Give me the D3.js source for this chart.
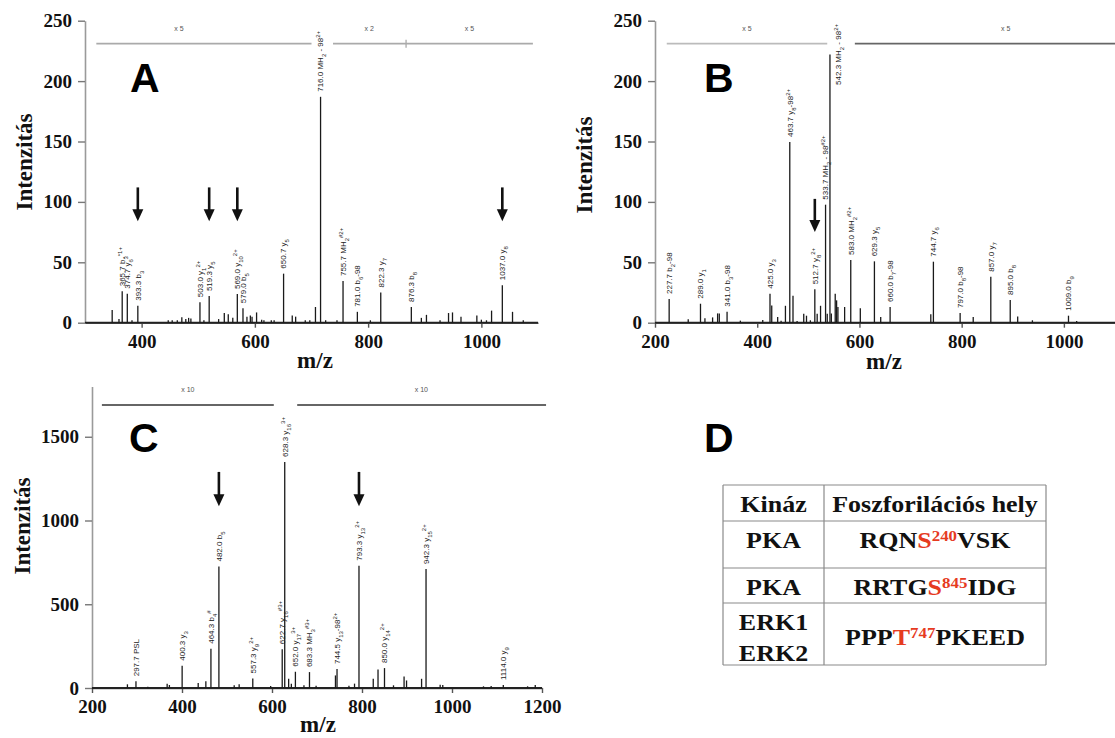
<!DOCTYPE html>
<html><head><meta charset="utf-8">
<script src="https://cdn.jsdelivr.net/npm/d3@7"></script>
<style>body{margin:0;background:#fff} svg{display:block}</style>
</head><body>
<svg id="chart" width="1115" height="738"></svg>
<script>
// ---------------- DATA ----------------
// Panel A spectrum (m/z, intensity)
const aPeakMz  = [348,360,365.7,374.7,383,393.3,447,454,463,471,478,483,487,503.0,510,519.3,536,546,553,561,569.0,579.0,586,592,595,603,612,616,629,634,650.7,666,672,689,697,707,716.0,725,745,755.7,781.0,804,822.3,876.3,894,903,927,942,949,964,992,1000,1009,1018,1037.0,1055,1074];
const aPeakInt = [10.5,3,26,24,2,14,2,2,2,4.5,3,4,3.5,17,2,22,3,8,7,4,23.7,12,5,6,5,8.5,2.5,2,2,2,40.6,6,5,2,2,13,187,2,2,34.5,9,2,25,13,4,6.5,2,8,8.5,5,6,2.5,2,10,31,9,2];
const aLabelMz   = [365.7,374.7,393.3,503.0,519.3,569.0,579.0,650.7,716.0,755.7,781.0,822.3,876.3,1037.0];
const aLabelText = ["365.7 b_3^*1+","374.7 y_6^*","393.3 b_3","503.0 y_1^2+","519.3 y_5","569.0 y_10^2+","579.0 b_5","650.7 y_5","716.0 MH_2 - 98^2+","755.7 MH_2^#2+","781.0 b_6-98","822.3 y_7","876.3 b_8","1037.0 y_8"];
const aArrowMz = [393.3,519.3,569.0,1037.0];
const aMagStart = [320,738,867], aMagEnd = [700,867,1091], aMagText = ["x 5","x 2","x 5"], aMagTextMz = [466,802,979];

// Panel B spectrum
const bPeakMz  = [227.7,265,289.0,297.7,312.7,322.5,325.8,341.0,367,410.8,425.0,428.4,440,446.7,455.2,463.7,470,478,491,496.4,504,512.7,517.3,523.9,533.7,537,542.3,545,552.6,555.3,557.9,571,583.0,601.7,629.3,641.6,660.0,739.6,744.7,797.0,822.6,857.0,895.0,909.6,938.4,1009.0,1025];
const bPeakInt = [19.6,2.8,15.7,3.6,4.4,7.7,7.7,9.1,1.7,2.2,24,14.3,4.7,1.7,14,149.6,22.4,1.4,7.5,5.8,2,27.6,7.5,14,97.7,7.5,222,7.7,24,18.5,13,13,51.9,11.9,50.8,4.7,13,7,50.5,8,4.7,38,18.8,5.2,2,5.8,1.4];
const bLabelMz   = [227.7,289.0,341.0,425.0,463.7,512.7,533.7,542.3,583.0,629.3,660.0,744.7,797.0,857.0,895.0,1009.0];
const bLabelText = ["227.7 b_2-98","289.0 y_1","341.0 b_3-98","425.0 y_3","463.7 y_8-98^2+","512.7 y_8^2+","533.7 MH_2 - 98^#2+","542.3 MH_2 - 98^2+","583.0 MH_2^#2+","629.3 y_5","660.0 b_7-98","744.7 y_6","797.0 b_8-98","857.0 y_7","895.0 b_8","1009.0 b_9"];
const bArrowMz = [512.7];
const bMagStart = [223,591], bMagEnd = [537,1100], bMagText = ["x 5","x 5"], bMagTextMz = [380,886];

// Panel C spectrum
const cPeakMz  = [278.7,297.7,324,367,372,400.3,436,453,464.3,482.0,516,527,557.3,597,622.7,628.3,637,643,652.0,671,683.3,698,741,744.5,771,783.4,793.3,825,835.6,850.0,870,893.5,899,932.4,942.3,973.7,979.5,1070,1087,1114.0,1168,1185];
const cPeakInt = [22,40,8,26,18,133,30,40,234,725,16,22,57,12,232,1350,55,26,97,16,95,14,75,113,14,26,730,55,111,119,16,69,45,55,710,20,18,10,12,18,10,18];
const cLabelMz   = [297.7,400.3,464.3,482.0,557.3,622.7,628.3,652.0,683.3,744.5,793.3,850.0,942.3,1114.0];
const cLabelText = ["297.7 PSL","400.3 y_3","464.3 b_4^#","482.0 b_5","557.3 y_9^2+","622.7 y_16^#3+","628.3 y_16^3+","652.0 y_17^3+","683.3 MH_3^#3+","744.5 y_13-98^2+","793.3 y_13^2+","850.0 y_14^2+","942.3 y_15^2+","1114.0 y_9"];
const cArrowMz = [482.0,793.3];
const cMagStart = [222,656], cMagEnd = [604,1209], cMagText = ["x 10","x 10"], cMagTextMz = [413,932];

// Axis ticks
const abYTicks = [0,50,100,150,200,250];
const cYTicks = [0,500,1000,1500];
const aXTicks = [400,600,800,1000];
const bXTicks = [200,400,600,800,1000];
const cXTicks = [200,400,600,800,1000,1200];

// Panel D table
const tableHeader = ["Kináz","Foszforilációs hely"];
const kinases = [["PKA"],["PKA"],["ERK1","ERK2"]];
const sitePre  = ["RQN","RRTG","PPP"];
const siteRes  = ["S","S","T"];
const siteNum  = ["240","845","747"];
const sitePost = ["VSK","IDG","PKEED"];

// ---------------- DRAW ----------------
const svg = d3.select("#chart");
const SERIF = "'Liberation Serif','Times New Roman',serif";
const SANS = "'Liberation Sans',Arial,sans-serif";

function rich(textSel, str, small) {
  const parts = str.split(/(_[^ ^\-]+|\^[^ ]+)/).filter(s => s.length);
  parts.forEach(p => {
    if (p[0] === "_") textSel.append("tspan").attr("baseline-shift","sub").attr("font-size",small).text(p.slice(1));
    else if (p[0] === "^") textSel.append("tspan").attr("baseline-shift","super").attr("font-size",small).text(p.slice(1));
    else textSel.append("tspan").text(p);
  });
}

function panel(o) {
  const g = svg.append("g");
  const x = d3.scaleLinear().domain(o.xDomain).range(o.xRange);
  const y = d3.scaleLinear().domain(o.yDomain).range(o.yRange);
  const y0 = y(0);

  // y axis
  const ya = g.append("g").attr("transform",`translate(${o.xRange[0]},0)`)
    .call(d3.axisLeft(y).tickValues(o.yTicks).tickSize(7).tickSizeOuter(0).tickPadding(6).tickFormat(d3.format("d")));
  ya.select(".domain").attr("stroke","#9a9a9a").attr("stroke-width",1.6);
  ya.selectAll(".tick line").attr("stroke","#777").attr("stroke-width",1.4);
  ya.selectAll(".tick text").attr("font-family",SERIF).attr("font-weight","bold").attr("font-size",19).attr("fill","#111");

  // x axis
  const xa = g.append("g").attr("transform",`translate(0,${y0})`)
    .call(d3.axisBottom(x).tickValues(o.xTicks).tickSize(5).tickSizeOuter(0).tickPadding(7).tickFormat(d3.format("d")));
  xa.select(".domain").attr("stroke","#555").attr("stroke-width",1.6);
  xa.selectAll(".tick line").attr("stroke","#555").attr("stroke-width",1.4);
  xa.selectAll(".tick text").attr("font-family",SERIF).attr("font-weight","bold").attr("font-size",19).attr("fill","#111");

  // baseline
  g.append("line").attr("x1",o.xRange[0]).attr("x2",o.xRange[1]).attr("y1",y0).attr("y2",y0)
    .attr("stroke","#222").attr("stroke-width",1.8);

  // peaks
  g.selectAll("line.pk").data(o.peakMz.map((m,i)=>[m,o.peakInt[i]])).join("line").attr("class","pk")
    .attr("x1",d=>x(d[0])).attr("x2",d=>x(d[0])).attr("y1",y0).attr("y2",d=>y(d[1]))
    .attr("stroke","#1a1a1a").attr("stroke-width",1.3);

  // peak labels (vertical, above the peak; beside it when there is no room above)
  o.labelMz.forEach((m,i) => {
    let best = 0, bd = 1e9;
    o.peakMz.forEach((pm,j)=>{ const dd=Math.abs(pm-m); if(dd<bd){bd=dd;best=j;} });
    const h = o.peakInt[best];
    const t = g.append("text")
      .attr("dy","0.35em").attr("font-family",SANS).attr("font-size",8).attr("fill","#222");
    rich(t, o.labelText[i], 6);
    const len = t.node().getComputedTextLength();
    const top = y(h) - 5;
    if (top - len < o.labelTop) t.attr("transform",`translate(${x(m)+8},${o.labelTop + 8 + len}) rotate(-90)`);
    else t.attr("transform",`translate(${x(m)},${top}) rotate(-90)`);
  });

  // arrows
  o.arrowMz.forEach(m => {
    const ax = x(m), yt = y(o.arrowTop), yb = y(o.arrowBottom);
    g.append("line").attr("x1",ax).attr("x2",ax).attr("y1",yt).attr("y2",yb-10).attr("stroke","#111").attr("stroke-width",2.6);
    g.append("path").attr("d",`M${ax-5.5},${yb-12}L${ax+5.5},${yb-12}L${ax},${yb}Z`).attr("fill","#111");
  });

  // magnification bars
  o.magStart.forEach((s,i) => {
    const yy = y(o.magLevel);
    g.append("line").attr("x1",x(s)).attr("x2",x(o.magEnd[i])).attr("y1",yy).attr("y2",yy)
      .attr("stroke",o.magColor[i]).attr("stroke-width",o.magWidth);
    g.append("text").attr("x",x(o.magTextMz[i])).attr("y",yy-13).attr("text-anchor","middle")
      .attr("font-family",SANS).attr("font-size",7).attr("fill","#555").text(o.magText[i]);
  });
  if (o.magTick) {
    const yy = y(o.magLevel);
    g.append("line").attr("x1",x(o.magTick)).attr("x2",x(o.magTick)).attr("y1",yy-4).attr("y2",yy+4).attr("stroke","#aaa").attr("stroke-width",1.3);
  }

  // titles
  g.append("text").attr("transform",`translate(${o.yTitle[0]},${o.yTitle[1]}) rotate(-90)`)
    .attr("text-anchor","middle").attr("dy","0.35em").attr("font-family",SERIF).attr("font-weight","bold").attr("font-size",23).attr("fill","#111").text("Intenzitás");
  g.append("text").attr("x",o.xTitle[0]).attr("y",o.xTitle[1]).attr("text-anchor","middle")
    .attr("font-family",SERIF).attr("font-weight","bold").attr("font-size",23).attr("fill","#111").text("m/z");
  g.append("text").attr("x",o.letterPos[0]).attr("y",o.letterPos[1])
    .attr("font-family",SANS).attr("font-weight","bold").attr("font-size",41).attr("fill","#000").text(o.letter);
}

panel({xDomain:[300,1100], xRange:[85,538], yDomain:[0,250], yRange:[322.7,20.7],
  yTicks:abYTicks, xTicks:aXTicks, peakMz:aPeakMz, peakInt:aPeakInt, labelMz:aLabelMz, labelText:aLabelText, labelTop:16,
  arrowMz:aArrowMz, arrowTop:112, arrowBottom:84,
  magStart:aMagStart, magEnd:aMagEnd, magText:aMagText, magTextMz:aMagTextMz, magLevel:231, magColor:["#aaa","#aaa","#aaa"], magWidth:1.6, magTick:867,
  yTitle:[24,162], xTitle:[315,368], letter:"A", letterPos:[130,92]});

panel({xDomain:[200,1100], xRange:[655,1115], yDomain:[0,250], yRange:[322.7,20.7],
  yTicks:abYTicks, xTicks:bXTicks, peakMz:bPeakMz, peakInt:bPeakInt, labelMz:bLabelMz, labelText:bLabelText, labelTop:16,
  arrowMz:bArrowMz, arrowTop:102.5, arrowBottom:75,
  magStart:bMagStart, magEnd:bMagEnd, magText:bMagText, magTextMz:bMagTextMz, magLevel:231, magColor:["#bbb","#666"], magWidth:1.6,
  yTitle:[584,165], xTitle:[884,369], letter:"B", letterPos:[704,92]});

panel({xDomain:[200,1200], xRange:[92,542], yDomain:[0,1800], yRange:[688,386.5],
  yTicks:cYTicks, xTicks:cXTicks, peakMz:cPeakMz, peakInt:cPeakInt, labelMz:cLabelMz, labelText:cLabelText, labelTop:380,
  arrowMz:cArrowMz, arrowTop:1290, arrowBottom:1085,
  magStart:cMagStart, magEnd:cMagEnd, magText:cMagText, magTextMz:cMagTextMz, magLevel:1689, magColor:["#666","#666"], magWidth:2,
  yTitle:[22,526], xTitle:[318,732], letter:"C", letterPos:[129,452]});

// Panel D
const D = svg.append("g");
D.append("text").attr("x",704).attr("y",452).attr("font-family",SANS).attr("font-weight","bold").attr("font-size",41).text("D");
const tx = [723,824,1046], ty = [485,521,568,603,665];
const lineC = "#8a8a8a";
tx.forEach(xx => D.append("line").attr("x1",xx).attr("x2",xx).attr("y1",ty[0]).attr("y2",ty[4]).attr("stroke",lineC).attr("stroke-width",1.2));
ty.forEach(yy => D.append("line").attr("x1",tx[0]).attr("x2",tx[2]).attr("y1",yy).attr("y2",yy).attr("stroke",lineC).attr("stroke-width",1.2));
const c1 = (tx[0]+tx[1])/2, c2 = (tx[1]+tx[2])/2;
function cell(cx, by) {
  return D.append("text").attr("transform",`translate(${cx},${by}) scale(1.13,1)`)
    .attr("font-family",SERIF).attr("font-weight","bold").attr("font-size",23).attr("fill","#111").attr("text-anchor","middle");
}
cell(c1,512).text(tableHeader[0]);
cell(c2,512).text(tableHeader[1]);
const rowBase = [548,595,645];
kinases.forEach((k,i) => {
  if (k.length === 1) cell(c1,rowBase[i]).text(k[0]);
  else { cell(c1,630).text(k[0]); cell(c1,661).text(k[1]); }
  const t = cell(c2,rowBase[i]);
  t.append("tspan").text(sitePre[i]);
  t.append("tspan").attr("fill","#e63b1f").text(siteRes[i]);
  t.append("tspan").attr("fill","#e63b1f").attr("font-size",15).attr("baseline-shift","super").text(siteNum[i]);
  t.append("tspan").text(sitePost[i]);
});
</script>
</body></html>
